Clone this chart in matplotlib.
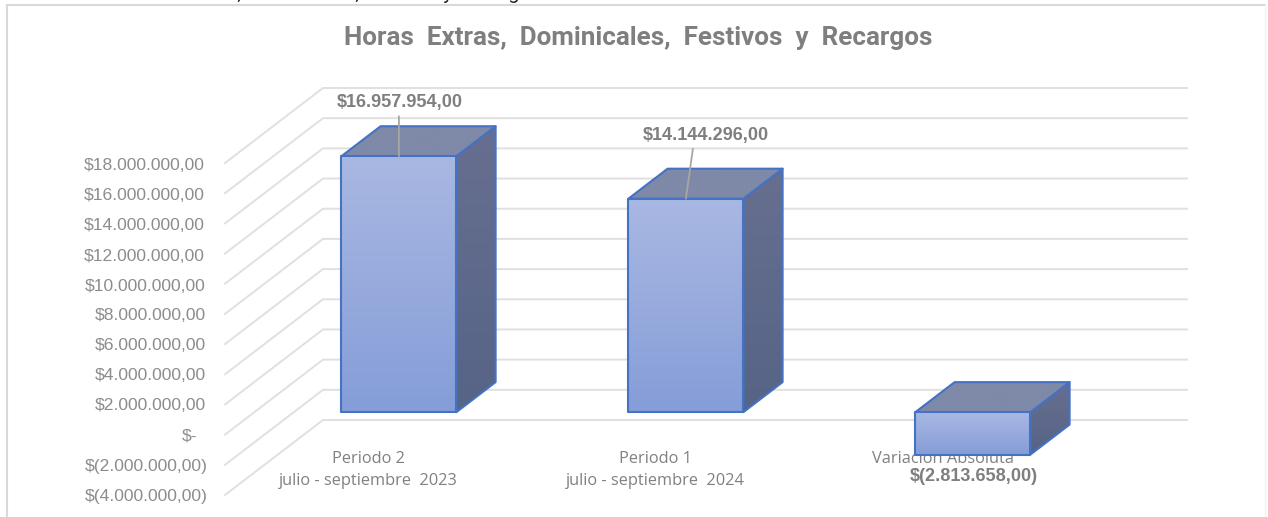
import numpy as np
import matplotlib
matplotlib.use("Agg")
import matplotlib.pyplot as plt
from matplotlib.patches import Polygon
from matplotlib.colors import to_rgb
from matplotlib.transforms import ScaledTranslation

categories = ["Periodo 2\njulio - septiembre  2023", "Periodo 1\njulio - septiembre  2024", "Variación Absoluta"]
values = [16957954.0, 14144296.0, -2813658.0]
value_labels = ["$16.957.954,00", "$14.144.296,00", "$(2.813.658,00)"]
axis_values = [18e6, 16e6, 14e6, 12e6, 10e6, 8e6, 6e6, 4e6, 2e6, 0, -2e6, -4e6]
axis_labels = ["$18.000.000,00", "$16.000.000,00", "$14.000.000,00", "$12.000.000,00",
               "$10.000.000,00", "$8.000.000,00", "$6.000.000,00", "$4.000.000,00",
               "$2.000.000,00", "$-", "$(2.000.000,00)", "$(4.000.000,00)"]
title = "Horas  Extras,  Dominicales,  Festivos  y  Recargos"
cut_title = "Horas Extras, Dominicales, Festivos y Recargos"

W, H = 1268, 517
fig = plt.figure(figsize=(W/100, H/100), dpi=100, facecolor="white")
L, R, T, B = 225, 1086, 163, 495
ax = fig.add_axes([L/W, 1-B/H, (R-L)/W, (B-T)/H])
ax.set_xlim(0, 3)
ax.set_ylim(-4e6, 18e6)
for s in ax.spines.values():
    s.set_visible(False)

DX = 98/287          # oblique depth in category units
DY = 75/(332/22e6)   # oblique depth in value units
def proj(x, v, d):
    return x + d*DX, v + d*DY

GRID = "#e0e0e0"
for v in axis_values:
    xs, ys = zip(proj(0, v, 0), proj(0, v, 1), proj(3.01, v, 1))
    ax.plot(xs, ys, color=GRID, lw=1.4, clip_on=False, zorder=1, solid_joinstyle="miter")

def face(points, c_start, c_end, z=3):
    pts = np.array(points)
    x0, x1, y0, y1 = pts[:, 0].min(), pts[:, 0].max(), pts[:, 1].min(), pts[:, 1].max()
    t = np.linspace(0, 1, 64)
    rgb = np.outer(1-t, to_rgb(c_start)) + np.outer(t, to_rgb(c_end))
    im = ax.imshow(rgb[:, None, :], extent=[x0, x1, y0, y1], aspect="auto", zorder=z,
                   interpolation="bilinear")
    im.set_clip_box(fig.bbox)
    im.set_clip_path(Polygon(points, closed=True, transform=ax.transData))
    ax.add_patch(Polygon(points, closed=True, fc="none", ec="#4472c4", lw=1.5, zorder=z+0.1,
                         joinstyle="round", clip_on=False))

BW = 115/287
D0, D1 = 0.3, 0.7
CENTER = 0.5035
for i, val in enumerate(values):
    xl, xr = i + CENTER - BW/2, i + CENTER + BW/2
    hi, lo = max(val, 0), min(val, 0)
    front = [proj(xl, lo, D0), proj(xr, lo, D0), proj(xr, hi, D0), proj(xl, hi, D0)]
    side = [proj(xr, lo, D0), proj(xr, lo, D1), proj(xr, hi, D1), proj(xr, hi, D0)]
    top = [proj(xl, hi, D0), proj(xr, hi, D0), proj(xr, hi, D1), proj(xl, hi, D1)]
    face(side, "#676f90", "#566486", z=3)
    face(top, "#7f89a8", "#7f89a8", z=3.2)
    face(front, "#a9b8e2", "#859dd8", z=3.4)
ax.set_xlim(0, 3)
ax.set_ylim(-4e6, 18e6)

# value labels and their leader lines
LBL = "#7f7f7f"
label_offsets = [(1, 54), (20, 63), (1, -22)]
leader_ends = [(0, 40), (7, 50), None]
for i, val in enumerate(values):
    anchor = proj(i + CENTER, val, D0)
    ax.annotate(value_labels[i], xy=anchor, xytext=label_offsets[i], textcoords="offset pixels",
                ha="center", va="center", fontfamily="Liberation Sans", fontweight="bold",
                fontsize=13.05, color=LBL, zorder=6, annotation_clip=False)
    if leader_ends[i] is not None:
        ax.annotate("", xy=anchor, xytext=leader_ends[i], textcoords="offset pixels", zorder=6,
                    annotation_clip=False,
                    arrowprops=dict(arrowstyle="-", color="#a6a6a6", lw=1.3, shrinkA=0, shrinkB=0))

# axis tick labels
ax.set_yticks(axis_values)
ax.set_yticklabels(axis_labels, fontfamily="Liberation Sans", fontsize=12.6, color="#8c8c8c")
ax.tick_params(axis="y", length=0, pad=14.3)
shift = {"$-": -8, "$(2.000.000,00)": 3, "$(4.000.000,00)": 3}
for lab in ax.get_yticklabels():
    txt = lab.get_text()
    px = shift.get(txt, 1 if txt.startswith(("$8", "$6", "$4", "$2")) else 0)
    py = -1 if txt.startswith("$1") else 0
    lab.set_transform(lab.get_transform() + ScaledTranslation(px/100, py/100, fig.dpi_scale_trans))

ax.set_xticks([0.5, 1.5, 2.5])
ax.set_xticklabels(categories, fontfamily="Open Sans", fontsize=11.8, color="#808080", linespacing=1.5)
ax.tick_params(axis="x", length=0, pad=-31.5)
ax.set_axisbelow(False)
for lab in ax.get_xticklabels():
    lab.set_zorder(7)
    lab.set_va("top")

fig.text(638.5/W, 1-38/H, title, ha="center", va="center", fontfamily="Roboto", fontweight="bold",
         fontsize=18.7, color="#7f7f7f")

# text cut off by the image's top edge in the source
fig.text(124/W, 1+1/H, cut_title, ha="left", va="baseline", fontfamily="Roboto",
         fontsize=14.3, color="#222222")

# chart frame
frame = [((6.5, 5), (6.5, H)), ((6.5, 5), (W-3, 5))]
for (x0, y0), (x1, y1) in frame:
    fig.add_artist(plt.Line2D([x0/W, x1/W], [1-y0/H, 1-y1/H], color="#d9d9d9", lw=1.5))
fig.add_artist(plt.Line2D([(W-3)/W, (W-3)/W], [1-5/H, 0], color="#f2f2f2", lw=1.0))

fig.savefig("out.png", dpi=100)
